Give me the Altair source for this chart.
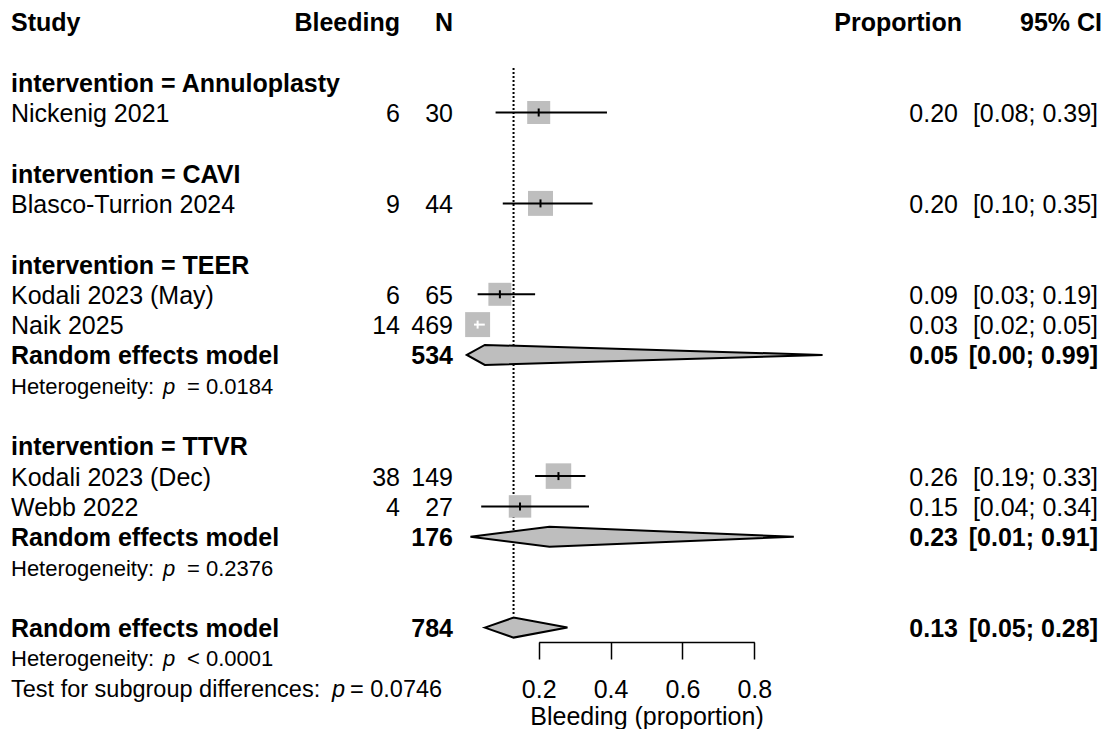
import math
import altair as alt
import pandas as pd

FONT = "Liberation Sans"
INK = "black"
GREY = "#BEBEBE"

# ---------------- data ----------------
groups = ["Annuloplasty", "CAVI", "TEER", "TTVR"]
studies = ["Nickenig 2021", "Blasco-Turrion 2024", "Kodali 2023 (May)",
           "Naik 2025", "Kodali 2023 (Dec)", "Webb 2022"]
study_groups = ["Annuloplasty", "CAVI", "TEER", "TEER", "TTVR", "TTVR"]
events = [6, 9, 6, 14, 38, 4]
totals = [30, 44, 65, 469, 149, 27]
proportions = [0.200, 0.205, 0.092, 0.030, 0.255, 0.148]
ci_lower = [0.08, 0.10, 0.03, 0.02, 0.19, 0.04]
ci_upper = [0.39, 0.35, 0.19, 0.05, 0.33, 0.34]
weights = [15.3, 18.0, 15.3, 18.0, 18.8, 14.6]

subgroup_names = ["TEER", "TTVR"]
subgroup_n = [534, 176]
subgroup_est = [0.05, 0.23]
subgroup_lower = [0.00, 0.01]
subgroup_upper = [0.99, 0.91]
subgroup_het = ["= 0.0184", "= 0.2376"]

overall_n = [784]
overall_est = [0.13]
overall_lower = [0.05]
overall_upper = [0.28]
overall_het = ["< 0.0001"]
subgroup_test = ["= 0.0746"]

tick_values = [0.2, 0.4, 0.6, 0.8]
headers = ["Study", "Bleeding", "N", "Proportion", "95% CI"]
x_title = "Bleeding (proportion)"

# ---------------- layout ----------------
X_RANGE = [530.7, 746.3]
Y_DOMAIN = [0, 20]
Y_RANGE = [74.2, 680.2]
HEADER_ROW = -2
DIAMOND_HALF = 0.33
SIZE_DOMAIN = [0, 20]
SIZE_RANGE = [0, 692]
FS = 25
FS_HET = 22
FS_TEST = 23.5
TEXT_DY = 1.5

STUDY_X = 3
BLEED_X = 392
N_X = 445
PROP_X = 950
PROP_HEAD_X = 954
CI_X = 1090
CI_HEAD_X = 1094
HET_P_X = 155
HET_STAT_X = 179
TEST_P_X = 324
TEST_STAT_X = 342

ppu = (X_RANGE[1] - X_RANGE[0]) / (tick_values[-1] - tick_values[0])


def square_half(w):
    return math.sqrt(SIZE_RANGE[1] * w / SIZE_DOMAIN[1]) / 2


def ci_text(lo, hi):
    return f"[{lo:.2f}; {hi:.2f}]"


study_rows, group_rows, summary_rows, het_rows, diamond_pts = [], [], [], [], []
r = 0
first_row = 0
for g in groups:
    group_rows.append({"row": r, "label": f"intervention = {g}"})
    r += 1
    for i, sg in enumerate(study_groups):
        if sg != g:
            continue
        h = square_half(weights[i])
        inside = ((proportions[i] - ci_lower[i]) * ppu < h and
                  (ci_upper[i] - proportions[i]) * ppu < h)
        study_rows.append({
            "row": r, "study": studies[i], "events": str(events[i]),
            "n": str(totals[i]), "est": proportions[i], "lo": ci_lower[i],
            "hi": ci_upper[i], "w": weights[i],
            "ci_color": "white" if inside else INK,
            "prop": f"{proportions[i]:.2f}",
            "ci": ci_text(ci_lower[i], ci_upper[i]),
        })
        r += 1
    if g in subgroup_names:
        j = subgroup_names.index(g)
        summary_rows.append({
            "row": r, "label": "Random effects model", "n": str(subgroup_n[j]),
            "prop": f"{subgroup_est[j]:.2f}",
            "ci": ci_text(subgroup_lower[j], subgroup_upper[j]),
        })
        for xv, f in [(subgroup_lower[j], 0), (subgroup_est[j], 1), (subgroup_upper[j], 0)]:
            diamond_pts.append({"id": g, "xv": xv,
                                "ylo": r - DIAMOND_HALF * f, "yhi": r + DIAMOND_HALF * f})
        r += 1
        het_rows.append({"row": r, "lead": "Heterogeneity:", "p": "p",
                         "stat": subgroup_het[j]})
        r += 1
    r += 1

overall_row = r
summary_rows.append({
    "row": r, "label": "Random effects model", "n": str(overall_n[0]),
    "prop": f"{overall_est[0]:.2f}",
    "ci": ci_text(overall_lower[0], overall_upper[0]),
})
for xv, f in [(overall_lower[0], 0), (overall_est[0], 1), (overall_upper[0], 0)]:
    diamond_pts.append({"id": "overall", "xv": xv,
                        "ylo": r - DIAMOND_HALF * f, "yhi": r + DIAMOND_HALF * f})
r += 1
het_rows.append({"row": r, "lead": "Heterogeneity:", "p": "p", "stat": overall_het[0]})
r += 1
test_rows = [{"row": r, "lead": "Test for subgroup differences:", "p": "p",
              "stat": subgroup_test[0]}]

header_df = pd.DataFrame([{"row": HEADER_ROW, **{f"h{i}": h for i, h in enumerate(headers)}}])
study_df = pd.DataFrame(study_rows)
group_df = pd.DataFrame(group_rows)
summary_df = pd.DataFrame(summary_rows)
het_df = pd.DataFrame(het_rows)
test_df = pd.DataFrame(test_rows)
diamond_df = pd.DataFrame(diamond_pts)
ref_df = pd.DataFrame([{"est": overall_est[0], "top": first_row - 0.47,
                        "bottom": overall_row - 0.42}])

# ---------------- scales ----------------
xscale = alt.Scale(domain=[tick_values[0], tick_values[-1]], range=X_RANGE,
                   zero=False, nice=False)
yscale = alt.Scale(domain=Y_DOMAIN, range=Y_RANGE, zero=False, nice=False)
xaxis = alt.Axis(values=tick_values, format=".1f", title=x_title, grid=False,
                 domainColor=INK, domainWidth=1.5, tickColor=INK, tickWidth=1.5,
                 tickSize=17, labelFont=FONT, labelFontSize=FS, labelColor=INK,
                 labelPadding=18, labelFlush=False, labelOverlap=False,
                 titleFont=FONT, titleFontSize=FS, titleFontWeight="normal",
                 titleColor=INK, titleY=62)


def X(field):
    return alt.X(field, type="quantitative", scale=xscale, axis=xaxis)


def Y(field):
    return alt.Y(field, type="quantitative", scale=yscale, axis=None)


def txt(df, field, x, align="left", bold=False, size=FS, italic=False):
    return alt.Chart(df).mark_text(
        align=align, baseline="middle", font=FONT, fontSize=size, dy=TEXT_DY,
        fontWeight="bold" if bold else "normal",
        fontStyle="italic" if italic else "normal", color=INK,
    ).encode(x=alt.value(x), y=Y("row"), text=alt.Text(f"{field}:N"))


ref_line = alt.Chart(ref_df).mark_rule(strokeDash=[2, 2], strokeWidth=2, color=INK).encode(
    x=X("est"), y=Y("top"), y2="bottom")

squares = alt.Chart(study_df).mark_square(color=GREY, opacity=1, strokeWidth=0).encode(
    x=X("est"), y=Y("row"),
    size=alt.Size("w:Q", scale=alt.Scale(domain=SIZE_DOMAIN, range=SIZE_RANGE), legend=None))

ci_lines = alt.Chart(study_df).mark_rule(strokeWidth=2).encode(
    x=X("lo"), x2="hi", y=Y("row"), color=alt.Color("ci_color:N", scale=None))

est_ticks = alt.Chart(study_df).mark_tick(orient="vertical", size=8, thickness=2,
                                          opacity=1).encode(
    x=X("est"), y=Y("row"), color=alt.Color("ci_color:N", scale=None))

diamonds = alt.Chart(diamond_df).mark_area(orient="vertical", fill=GREY, stroke=INK,
                                           strokeWidth=2, opacity=1,
                                           interpolate="linear").encode(
    x=X("xv"), y=Y("ylo"), y2=alt.Y2("yhi"), detail="id:N")

layers = [
    ref_line, squares, ci_lines, est_ticks, diamonds,
    # header
    txt(header_df, "h0", STUDY_X, bold=True),
    txt(header_df, "h1", BLEED_X, align="right", bold=True),
    txt(header_df, "h2", N_X, align="right", bold=True),
    txt(header_df, "h3", PROP_HEAD_X, align="right", bold=True),
    txt(header_df, "h4", CI_HEAD_X, align="right", bold=True),
    # group headings
    txt(group_df, "label", STUDY_X, bold=True),
    # studies
    txt(study_df, "study", STUDY_X),
    txt(study_df, "events", BLEED_X, align="right"),
    txt(study_df, "n", N_X, align="right"),
    txt(study_df, "prop", PROP_X, align="right"),
    txt(study_df, "ci", CI_X, align="right"),
    # summaries
    txt(summary_df, "label", STUDY_X, bold=True),
    txt(summary_df, "n", N_X, align="right", bold=True),
    txt(summary_df, "prop", PROP_X, align="right", bold=True),
    txt(summary_df, "ci", CI_X, align="right", bold=True),
    # heterogeneity
    txt(het_df, "lead", STUDY_X, size=FS_HET),
    txt(het_df, "p", HET_P_X, size=FS_HET, italic=True),
    txt(het_df, "stat", HET_STAT_X, size=FS_HET),
    txt(test_df, "lead", STUDY_X, size=FS_TEST),
    txt(test_df, "p", TEST_P_X, size=FS_TEST, italic=True),
    txt(test_df, "stat", TEST_STAT_X, size=FS_TEST),
]

chart = alt.layer(*layers).properties(
    width=1097, height=634, padding=0, background="white"
).configure_view(stroke=None)

chart.save("out.html", embed_options={"renderer": "svg", "actions": False})
